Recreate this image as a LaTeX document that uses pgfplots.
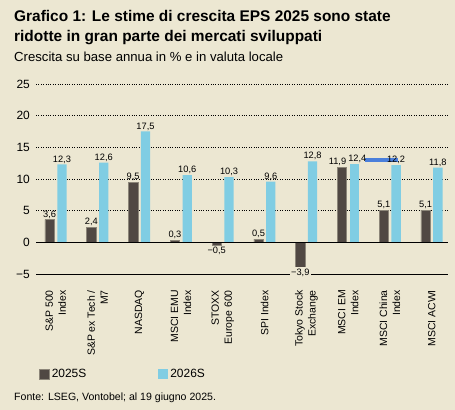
\documentclass[border=0pt]{standalone}
\usepackage{fontspec}
\setmainfont{Liberation Sans}
\usepackage{pgfplots}
\pgfplotsset{compat=1.18}
\definecolor{bg}{HTML}{ECE7D2}
\definecolor{darkbar}{HTML}{504843}
\definecolor{darkedge}{HTML}{8C8679}
\definecolor{lightbar}{HTML}{80CDE3}
\definecolor{blueline}{HTML}{4A7FDB}
\begin{document}
\begin{tikzpicture}
\fill[bg] (0,0) rectangle (455bp,410bp);
\useasboundingbox (0,0) rectangle (455bp,410bp);
\node[anchor=base west, font=\fontsize{15.5}{18}\selectfont\bfseries, inner sep=0pt] at (14bp,388bp) {Grafico 1: Le stime di crescita EPS 2025 sono state};
\node[anchor=base west, font=\fontsize{15.5}{18}\selectfont\bfseries, inner sep=0pt] at (14bp,368bp) {ridotte in gran parte dei mercati sviluppati};
\node[anchor=base west, font=\fontsize{13.2}{15}\selectfont, inner sep=0pt] at (14bp,348bp) {Crescita su base annua in \% e in valuta locale};
\node[anchor=base west, font=\fontsize{10.6}{12}\selectfont, inner sep=0pt] at (14bp,10bp) {Fonte: LSEG, Vontobel; al 19 giugno 2025.};
\begin{axis}[
  at={(36bp,136bp)}, anchor=south west,
  scale only axis, width=412bp, height=190bp,
  xmin=-0.474, xmax=9.39, ymin=-5, ymax=25,
  ybar, bar width=9.3bp,
  axis x line*=bottom, axis y line*=left,
  y axis line style={draw=none},
  x axis line style={black, line width=0.8bp, -},
  major tick length=0pt,
  ytick={-5,0,5,10,15,20,25}, yticklabels={−5,0,5,10,15,20,25},
  yticklabel style={font=\fontsize{12}{14}\selectfont, inner sep=0pt},
  yticklabel shift=6bp,
  xtick={0,...,9},
  xticklabels={{S\&P 500\\Index},{S\&P ex Tech /\\M7},{NASDAQ},{MSCI EMU\\Index},{STOXX\\Europe 600},{SPI Index},{Tokyo Stock\\Exchange},{MSCI EM\\Index},{MSCI China\\Index},{MSCI ACWI}},
  xticklabel style={rotate=90, anchor=east, align=right, font=\fontsize{10.5}{13}\selectfont, inner sep=0pt},
  xticklabel shift=16bp,
  ymajorgrids, grid style={black, dotted, line width=0.6bp},
  point meta=explicit symbolic,
  nodes near coords style={font=\fontsize{9.3}{11}\selectfont, inner sep=1bp},
  legend image code/.code={\fill[#1] (0bp,-5bp) rectangle (10bp,5bp);},
  legend style={at={(0.0073,-0.526)}, anchor=west, draw=none, fill=none, legend columns=2, inner sep=0pt, font=\fontsize{12}{14}\selectfont, /tikz/every even column/.append style={column sep=70bp}},
]
\addplot[fill=darkbar, draw=darkedge, line width=0.6bp, bar shift=-6.15bp, nodes near coords] coordinates {
(0,3.6) [3,6]
(1,2.4) [2,4]
(2,9.5) [9,5]
(3,0.3) [0,3]
(5,0.5) [0,5]
(8,5.1) [5,1]
(9,5.1) [5,1]
};
\addplot[fill=darkbar, draw=darkedge, line width=0.6bp, bar shift=-6.15bp, forget plot, nodes near coords,
  nodes near coords style={xshift=-4.5bp}] coordinates {
(7,11.9) [11,9]
};
\addplot[fill=darkbar, draw=darkedge, line width=0.6bp, bar shift=-6.15bp, forget plot, nodes near coords,
  nodes near coords style={anchor=north, fill=bg, inner sep=1.5bp}] coordinates {
(4,-0.5) [−0,5]
(6,-3.9) [−3,9]
};
\addplot[fill=lightbar, draw=none, bar shift=6.15bp, nodes near coords] coordinates {
(0,12.3) [12,3]
(1,12.6) [12,6]
(2,17.5) [17,5]
(3,10.6) [10,6]
(4,10.3) [10,3]
(5,9.6) [9,6]
(6,12.8) [12,8]
(8,12.2) [12,2]
(9,11.8) [11,8]
};
\addplot[fill=lightbar, draw=none, bar shift=6.15bp, forget plot, nodes near coords,
  nodes near coords style={xshift=3bp}] coordinates {
(7,12.4) [12,4]
};
\addplot[blueline, line width=4bp, sharp plot, no marks, forget plot] coordinates {(7.41,12.93) (8.20,12.93)};
\draw[black, line width=0.8bp] (axis cs:-0.474,0) -- (axis cs:9.39,0);
\legend{2025S,2026S}
\end{axis}
\end{tikzpicture}
\end{document}
